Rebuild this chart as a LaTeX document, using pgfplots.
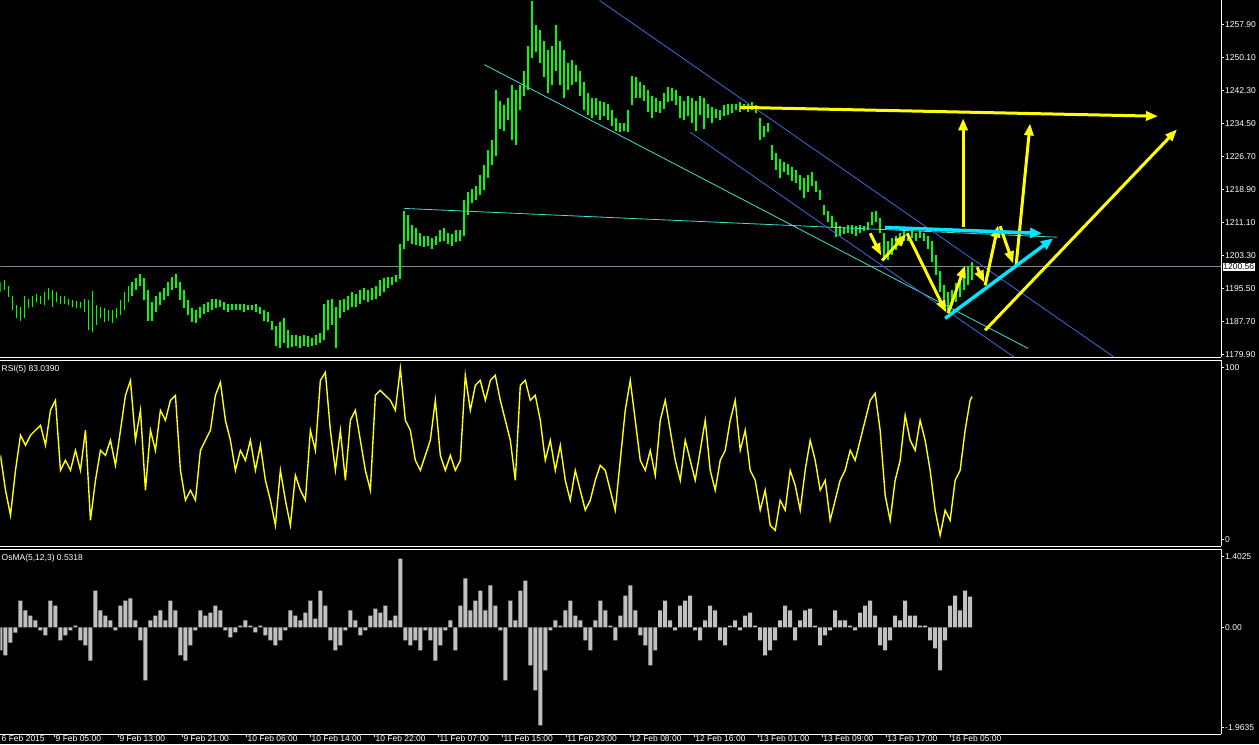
\documentclass[border=0pt]{standalone}
\usepackage{pgfplots}
\pgfplotsset{compat=1.18}
\usepackage{pgfplotstable}
\usepackage{fontspec}
\setmainfont{Liberation Sans}
\usetikzlibrary{arrows.meta}
\definecolor{mtgreen}{RGB}{0,255,0}
\definecolor{mtyellow}{RGB}{255,255,0}
\definecolor{mtsilver}{RGB}{192,192,192}
\definecolor{mtbid}{RGB}{119,136,153}
\definecolor{mtblue}{RGB}{65,105,225}
\definecolor{mtturq}{RGB}{64,224,208}
\definecolor{mtcyan}{RGB}{0,229,255}

\pgfplotstableread{
x lo hi
0 1194.6 1196.9
4 1195.0 1197.4
8 1193.4 1196.0
12 1190.3 1193.6
16 1188.4 1191.5
20 1187.9 1191.2
24 1188.4 1193.6
28 1190.8 1193.1
32 1191.2 1193.6
36 1192.2 1194.1
40 1191.9 1193.6
44 1191.5 1194.6
48 1192.7 1195.5
52 1191.2 1195.0
56 1192.2 1194.6
60 1191.7 1193.6
64 1191.9 1193.6
68 1191.5 1193.1
72 1191.2 1192.7
76 1190.8 1192.4
80 1190.8 1192.2
84 1189.8 1193.1
88 1185.6 1192.7
92 1185.1 1194.8
96 1186.8 1191.5
100 1188.4 1191.2
104 1187.5 1190.8
108 1187.9 1190.3
112 1187.2 1190.3
116 1188.4 1190.8
120 1189.1 1192.7
124 1190.3 1194.6
128 1192.2 1196.0
132 1193.8 1196.9
136 1195.0 1197.9
140 1196.0 1198.8
144 1192.7 1197.9
148 1187.9 1195.0
152 1187.9 1192.2
156 1189.8 1193.6
160 1191.5 1194.6
164 1192.7 1195.5
168 1193.6 1196.9
172 1195.0 1198.3
176 1195.5 1198.8
180 1192.7 1196.9
184 1190.8 1195.0
188 1189.1 1192.7
192 1187.5 1190.8
196 1187.2 1190.3
200 1188.4 1191.2
204 1189.4 1191.7
208 1189.8 1192.2
212 1190.3 1193.1
216 1190.8 1193.1
220 1191.2 1192.7
224 1190.3 1192.2
228 1189.8 1191.7
232 1190.3 1191.9
236 1190.3 1191.7
240 1190.3 1191.7
244 1189.8 1191.9
248 1190.5 1191.5
252 1190.3 1191.5
256 1189.8 1191.9
260 1189.4 1191.2
264 1187.9 1190.3
268 1187.5 1189.8
272 1185.6 1187.9
276 1181.8 1186.5
280 1181.3 1187.5
284 1182.7 1188.4
288 1181.3 1185.6
292 1181.6 1184.4
296 1181.8 1184.4
300 1181.3 1184.2
304 1181.8 1184.4
308 1181.6 1184.2
312 1181.8 1183.7
316 1182.0 1184.4
320 1182.7 1184.9
324 1183.2 1191.7
328 1185.6 1192.7
332 1186.8 1193.1
336 1181.3 1191.2
340 1188.4 1192.7
344 1189.8 1193.1
348 1190.3 1193.6
352 1191.0 1194.6
356 1191.2 1194.1
360 1191.9 1195.0
364 1192.7 1195.5
368 1192.2 1195.0
372 1192.7 1195.5
376 1193.1 1196.0
380 1193.6 1197.4
384 1194.6 1197.9
388 1195.5 1198.1
392 1196.2 1198.3
396 1196.9 1198.6
400 1197.6 1206.1
404 1204.9 1213.9
408 1206.8 1212.8
412 1206.1 1210.4
416 1205.7 1209.7
420 1205.4 1208.7
424 1205.2 1208.0
428 1205.4 1207.8
432 1204.9 1207.3
436 1205.7 1208.0
440 1206.4 1209.2
444 1206.8 1209.7
448 1205.9 1208.7
452 1205.4 1208.3
456 1206.4 1209.2
460 1206.8 1209.2
464 1207.8 1216.3
468 1212.8 1218.2
472 1215.6 1219.1
476 1216.3 1219.8
480 1217.5 1222.2
484 1218.7 1224.6
488 1221.5 1228.1
492 1224.6 1230.5
496 1226.9 1242.3
500 1233.3 1239.9
504 1232.8 1238.8
508 1235.2 1240.4
512 1230.5 1243.5
516 1229.3 1242.3
520 1237.6 1243.7
524 1241.1 1247.0
528 1242.3 1252.9
532 1249.9 1263.4
536 1251.3 1257.7
540 1248.9 1256.5
544 1245.4 1254.1
548 1241.8 1251.8
552 1243.5 1252.9
556 1247.0 1257.7
560 1243.5 1254.1
564 1240.6 1251.8
568 1242.3 1248.9
572 1243.5 1249.4
576 1244.2 1248.2
580 1241.1 1247.0
584 1237.6 1244.2
588 1236.4 1241.8
592 1235.7 1240.6
596 1236.4 1240.4
600 1235.2 1239.9
604 1236.2 1239.5
608 1235.2 1239.0
612 1234.0 1237.6
616 1232.8 1235.7
620 1232.4 1234.7
624 1232.8 1234.5
628 1232.4 1237.6
632 1238.8 1245.8
636 1240.4 1245.4
640 1240.6 1244.2
644 1239.9 1243.5
648 1237.1 1242.3
652 1235.7 1241.1
656 1237.1 1240.6
660 1236.9 1239.9
664 1238.0 1241.8
668 1239.5 1243.0
672 1239.9 1242.8
676 1238.8 1242.3
680 1235.7 1241.1
684 1235.2 1239.9
688 1236.2 1241.1
692 1234.7 1240.6
696 1232.8 1239.9
700 1236.4 1241.1
704 1233.3 1240.4
708 1235.7 1239.2
712 1234.7 1238.5
716 1235.7 1238.0
720 1235.2 1237.6
724 1236.2 1238.8
728 1236.4 1239.2
732 1236.9 1239.0
736 1237.6 1239.2
740 1237.1 1239.5
744 1237.6 1239.2
748 1237.1 1239.0
752 1237.6 1239.5
756 1236.9 1238.8
760 1230.5 1235.7
764 1231.2 1234.0
768 1232.4 1234.7
772 1225.8 1229.3
776 1223.4 1227.6
780 1221.5 1226.2
784 1222.9 1225.3
788 1222.2 1225.0
792 1221.0 1224.3
796 1220.3 1223.4
800 1218.7 1222.2
804 1216.8 1221.5
808 1218.2 1222.2
812 1219.6 1222.9
816 1218.2 1221.0
820 1216.3 1218.7
824 1212.8 1215.1
828 1211.1 1213.9
832 1209.7 1212.5
836 1207.6 1211.1
840 1207.8 1210.2
844 1208.3 1209.9
848 1208.5 1210.4
852 1208.3 1210.6
856 1208.0 1210.2
860 1208.7 1210.4
864 1209.0 1210.2
868 1209.2 1211.1
872 1210.4 1213.5
876 1211.1 1213.9
880 1208.7 1212.1
884 1202.6 1208.7
888 1202.1 1206.8
892 1203.5 1207.3
896 1204.5 1207.8
900 1205.4 1208.5
904 1206.8 1209.2
908 1206.8 1208.7
912 1207.3 1209.2
916 1206.8 1208.7
920 1207.3 1209.0
924 1206.6 1208.5
928 1204.9 1207.8
932 1201.7 1206.8
936 1198.6 1203.3
940 1194.6 1199.7
944 1191.5 1196.2
948 1190.3 1194.6
952 1191.5 1195.0
956 1192.2 1196.7
960 1193.4 1197.9
964 1195.0 1199.3
968 1196.4 1200.7
972 1197.4 1201.7
}\price

\pgfplotstableread{
x r
0 48.8
5 28.5
10 14.0
15 40.1
20 60.5
25 54.7
30 60.5
35 63.4
40 66.3
45 54.7
50 75.0
55 80.8
60 40.1
65 45.9
70 40.1
75 51.7
80 40.1
85 63.4
90 11.0
95 34.3
100 51.7
105 48.8
110 57.6
115 43.0
120 63.4
125 83.7
130 92.4
135 57.6
140 75.0
145 28.5
150 63.4
155 51.7
160 75.0
165 69.2
170 80.8
175 83.7
180 40.1
185 22.7
190 28.5
195 22.7
200 51.7
205 57.6
210 63.4
215 83.7
220 91.3
225 69.2
230 57.6
235 40.1
240 51.7
245 45.9
250 57.6
255 40.1
260 54.7
265 34.3
270 22.7
275 8.1
280 40.1
285 22.7
290 8.1
295 37.2
300 28.5
305 22.7
310 63.4
315 51.7
320 92.4
325 97.1
330 63.4
335 40.1
340 63.4
345 34.3
350 69.2
355 75.0
360 57.6
365 40.1
370 28.5
375 83.7
380 86.6
385 83.7
390 80.8
395 75.0
400 99.4
405 69.2
410 63.4
415 45.9
420 40.1
425 48.8
430 57.6
435 80.8
440 48.8
445 40.1
450 48.8
455 40.1
460 45.9
465 95.3
470 75.0
475 89.5
480 92.4
485 80.8
490 92.4
495 95.3
500 80.8
505 69.2
510 57.6
515 34.3
520 89.5
525 92.4
530 80.8
535 83.7
540 69.2
545 45.9
550 57.6
555 40.1
560 54.7
565 34.3
570 22.7
575 40.1
580 28.5
585 16.9
590 22.7
595 34.3
600 43.0
605 40.1
610 28.5
615 16.9
620 45.9
625 75.0
630 92.4
635 69.2
640 45.9
645 40.1
650 51.7
655 37.2
660 69.2
665 80.8
670 63.4
675 45.9
680 34.3
685 57.6
690 45.9
695 34.3
700 51.7
705 69.2
710 40.1
715 28.5
720 45.9
725 51.7
730 69.2
735 80.8
740 51.7
745 63.4
750 40.1
755 34.3
760 16.9
765 28.5
770 8.1
775 5.2
780 22.7
785 16.9
790 40.1
795 31.4
800 16.9
805 40.1
810 57.6
815 45.9
820 28.5
825 34.3
830 11.0
835 22.7
840 34.3
845 40.1
850 51.7
855 45.9
860 57.6
865 69.2
870 80.8
875 84.9
880 63.4
885 25.6
890 11.0
895 34.3
900 45.9
905 72.1
910 57.6
915 51.7
920 69.2
925 57.6
930 40.1
935 16.9
940 2.3
945 16.9
950 11.0
955 34.3
960 40.1
965 63.4
970 80.8
972 83.0
}\rsi

\pgfplotstableread{
x v
0 -0.45
5 -0.55
10 -0.30
15 -0.10
20 0.53
25 0.335
30 0.236
35 0.138
40 -0.059
45 -0.157
50 0.531
55 0.433
60 -0.256
65 -0.157
70 -0.059
75 0.039
80 -0.256
85 -0.354
90 -0.650
95 0.728
100 0.335
105 0.236
110 0.138
115 -0.059
120 0.433
125 0.531
130 0.571
135 0.138
140 -0.256
145 -1.043
150 0.138
155 0.236
160 0.335
165 0.138
170 0.531
175 0.335
180 -0.551
185 -0.650
190 -0.354
195 -0.059
200 0.335
205 0.236
210 0.295
215 0.433
220 0.335
225 -0.059
230 -0.197
235 -0.098
240 0.039
245 0.138
250 0.039
255 -0.098
260 0.039
265 -0.157
270 -0.256
275 -0.354
280 -0.256
285 -0.059
290 0.335
295 0.236
300 0.138
305 0.295
310 0.531
315 0.177
320 0.728
325 0.433
330 -0.256
335 -0.453
340 -0.354
345 -0.059
350 0.335
355 0.138
360 -0.157
365 -0.059
370 0.236
375 0.374
380 0.295
385 0.433
390 0.138
395 0.236
400 1.358
405 -0.256
410 -0.354
415 -0.256
420 -0.453
425 -0.059
430 -0.256
435 -0.650
440 -0.354
445 -0.059
450 0.138
455 -0.453
460 0.433
465 0.965
470 0.335
475 0.531
480 0.728
485 0.335
490 0.827
495 0.433
500 -0.059
505 -1.043
510 0.531
515 0.138
520 0.728
525 0.925
530 -0.748
535 -1.240
540 -1.929
545 -0.846
550 -0.059
555 0.138
560 0.039
565 0.335
570 0.531
575 0.236
580 0.138
585 -0.256
590 -0.453
595 0.138
600 0.531
605 0.335
610 0.039
615 -0.256
620 0.236
625 0.630
630 0.827
635 0.335
640 -0.157
645 -0.354
650 -0.748
655 -0.453
660 0.335
665 0.531
670 0.138
675 -0.059
680 0.433
685 0.531
690 0.630
695 -0.059
700 -0.256
705 0.138
710 0.433
715 0.335
720 -0.256
725 -0.354
730 0.039
735 0.138
740 -0.059
745 0.236
750 0.295
755 0.039
760 -0.256
765 -0.551
770 -0.453
775 -0.256
780 0.138
785 0.433
790 0.335
795 -0.256
800 0.138
805 0.335
810 0.374
815 0.039
820 -0.354
825 -0.157
830 -0.059
835 0.335
840 0.138
845 0.138
850 0.039
855 -0.059
860 0.295
865 0.433
870 0.531
875 0.236
880 -0.354
885 -0.453
890 -0.256
895 0.236
900 0.138
905 0.531
910 0.236
915 0.236
920 0.039
925 0.039
930 -0.256
935 -0.413
940 -0.846
945 -0.256
950 0.433
955 0.630
960 0.335
965 0.728
970 0.610
}\osma

\pgfplotsset{
  mt/.style={
    scale only axis, width=1221pt, xmin=0, xmax=1221,
    axis line style={white, line width=1pt},
    tick style={white, line width=0.8pt},
    major tick length=3pt, tick align=outside,
    ticklabel style={font=\fontsize{8.5}{9}\selectfont, text=white},
    xtick=\empty, axis y line*=right, axis x line*=box,
    yticklabel style={anchor=west, inner sep=0pt, xshift=1pt},
    anchor=south west,
  },
  yarrow/.style={mtyellow, line width=3pt, -{Triangle[length=12pt,width=9pt]}},
  carrow/.style={mtcyan, line width=3.5pt, -{Triangle[length=12pt,width=10pt]}},
}

\begin{document}
\begin{tikzpicture}[x=1pt,y=1pt]
\fill[black] (0,0) rectangle (1259,744);

% price pane
\begin{axis}[mt, at={(0pt,387pt)}, height=357pt, ymin=1179.19, ymax=1263.57,
  axis x line*=bottom,
  ytick={1179.9,1187.7,1195.5,1203.3,1211.1,1218.9,1226.7,1234.5,1242.3,1250.1,1257.9},
  yticklabels={1179.90,1187.70,1195.50,1203.30,1211.10,1218.90,1226.70,1234.50,1242.30,1250.10,1257.90},
  extra y ticks={1200.56}, extra y tick labels={1200.56},
  extra y tick style={major tick length=0pt, yticklabel style={fill=white, text=black, inner sep=0.6pt, xshift=0.5pt}}]
\addplot[mtbid, line width=1pt] coordinates {(0,1200.56) (1221,1200.56)};
\addplot[draw=none, mark=none,
  error bars/.cd, y dir=plus, y explicit, error mark=none,
  error bar style={draw=mtgreen, line width=1.9pt}]
  table[x=x, y=lo, y error plus expr=\thisrow{hi}-\thisrow{lo}] {\price};
\addplot[mtturq, line width=0.8pt] coordinates {(404,1214.4) (1057,1207.6)};
\addplot[mtturq, line width=0.8pt] coordinates {(484,1248.4) (1028,1181.3)};
\addplot[mtblue, line width=0.8pt] coordinates {(599.3,1263.57) (1114.3,1179.19)};
\addplot[mtblue, line width=0.8pt] coordinates {(690,1232.4) (1014.3,1179.19)};
\addplot[yarrow] coordinates {(740,1238.3) (1158,1236.2)};
\addplot[yarrow] coordinates {(963,1209.9) (963,1235.7)};
\addplot[yarrow] coordinates {(1016,1200.9) (1030,1234.5)};
\addplot[yarrow] coordinates {(985,1185.6) (1177,1233.1)};
\addplot[yarrow] coordinates {(870,1208.5) (881,1203.3)};
\addplot[yarrow] coordinates {(882,1202.1) (906,1208.3)};
\addplot[yarrow] coordinates {(907,1208.5) (946,1189.8)};
\addplot[yarrow] coordinates {(948,1189.6) (965,1200.9)};
\addplot[yarrow] coordinates {(977,1200.5) (984,1196.9)};
\addplot[yarrow] coordinates {(985,1196.2) (998,1210.4)};
\addplot[yarrow] coordinates {(1000,1210.2) (1013,1201.4)};
\addplot[carrow] coordinates {(885,1209.9) (1042,1208.5)};
\addplot[carrow] coordinates {(945,1188.4) (1053,1207.3)};
\end{axis}

% RSI pane
\begin{axis}[mt, at={(0pt,198pt)}, height=186pt, ymin=-4.07, ymax=104.07,
  ytick={0,100}, yticklabels={0,100}]
\addplot[mtyellow, line width=1.4pt] table[x=x, y=r] {\rsi};
\end{axis}

% OsMA pane
\begin{axis}[mt, at={(0pt,10pt)}, height=185pt, ymin=-2.1013, ymax=1.5403,
  ytick={-1.9635,0,1.4025}, yticklabels={-1.9635,0.00,1.4025},
  xtick={54,118,182,246,310,374,438,502,566,630,694,758,822,886,950},
  xticklabels={9 Feb 05:00,9 Feb 13:00,9 Feb 21:00,10 Feb 06:00,10 Feb 14:00,10 Feb 22:00,11 Feb 07:00,11 Feb 15:00,11 Feb 23:00,12 Feb 08:00,12 Feb 16:00,13 Feb 01:00,13 Feb 09:00,13 Feb 17:00,16 Feb 05:00},
  xtick pos=bottom,
  xticklabel style={anchor=north west, inner sep=0pt, xshift=1pt, yshift=2pt}]
\addplot[ybar, bar width=4pt, bar shift=0pt, fill=mtsilver, draw=none] table[x=x, y=v] {\osma};
\end{axis}

\node[anchor=west, inner sep=0pt, text=white, font=\fontsize{8.5}{9}\selectfont] at (1,375.5) {RSI(5) 83.0390};
\node[anchor=west, inner sep=0pt, text=white, font=\fontsize{8.5}{9}\selectfont] at (1,185.5) {OsMA(5,12,3) 0.5318};
\node[anchor=north west, inner sep=0pt, text=white, font=\fontsize{8.5}{9}\selectfont] at (1,9) {6 Feb 2015};
\end{tikzpicture}
\end{document}
